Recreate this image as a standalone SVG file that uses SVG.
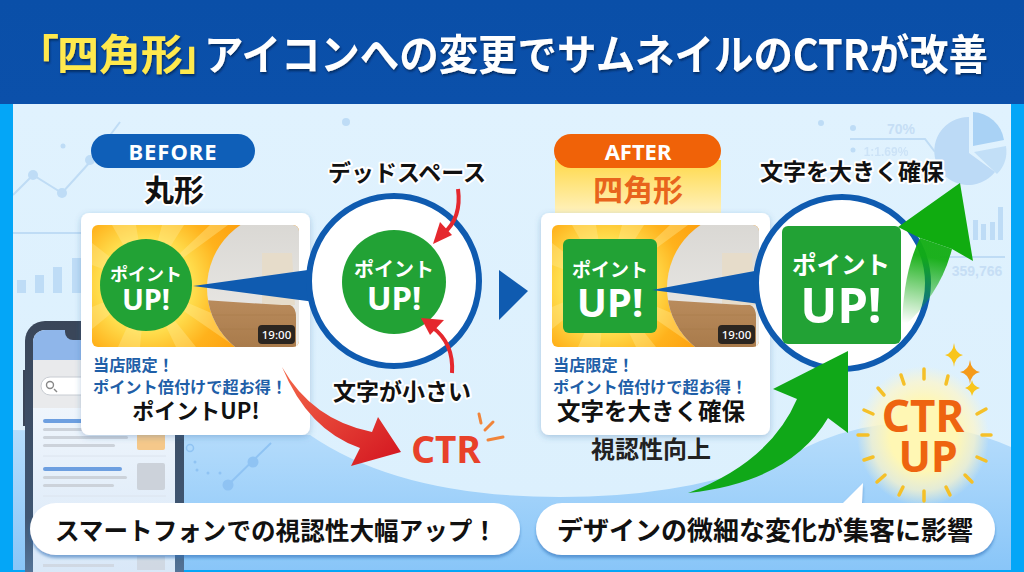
<svg xmlns="http://www.w3.org/2000/svg" xmlns:xlink="http://www.w3.org/1999/xlink" width="1024" height="572" viewBox="0 0 1024 572">
<style>
text{font-family:"Noto Sans CJK JP","Noto Sans",sans-serif;font-weight:700;text-anchor:middle}
.lat{font-family:"Noto Sans",sans-serif}
.lbl{fill:#111;stroke:#fff;stroke-width:4px;paint-order:stroke;stroke-linejoin:round}
.wht{fill:#fff}
.blu{fill:#1f5fa8;font-size:16.2px;text-anchor:start}
.blk{fill:#111}
.card{fill:#fff;filter:url(#sh)}
.ring{fill:#fff;stroke:#0f5bb0;stroke-width:6}
.grn{fill:#22a235}
.pill{fill:#fff;filter:url(#sh2)}
.faint{fill:#c6def5;font-family:"Liberation Sans",sans-serif}
.deco{fill:#bedcf6}
.decol{fill:none;stroke:#bfdcf5;stroke-width:2}
.ray{fill:none;stroke:#f5c028;stroke-width:3.500;stroke-linecap:round}
.bar{fill:#ccd2da}
</style>
<defs>
<linearGradient id="hd" x1="0" y1="0" x2="0" y2="1"><stop offset="0" stop-color="#0a4fa8"/><stop offset="1" stop-color="#0b50aa"/></linearGradient>
<linearGradient id="bg" x1="0" y1="0" x2="0" y2="1"><stop offset="0" stop-color="#dff1fe"/><stop offset="0.6" stop-color="#cfe8fc"/><stop offset="0.8" stop-color="#add8fb"/><stop offset="1" stop-color="#88c5f8"/></linearGradient>
<linearGradient id="sw" x1="0" y1="0" x2="0" y2="1"><stop offset="0" stop-color="#e0f2fe"/><stop offset="1" stop-color="#dcf0fd"/></linearGradient>
<radialGradient id="burst" gradientUnits="userSpaceOnUse" cx="54" cy="60" r="130"><stop offset="0.35" stop-color="#ffe050"/><stop offset="0.6" stop-color="#ffb21c"/><stop offset="1" stop-color="#fb960a"/></radialGradient>
<linearGradient id="red" x1="0" y1="0" x2="1" y2="1"><stop offset="0" stop-color="#f4694a"/><stop offset="1" stop-color="#d3141f"/></linearGradient>
<linearGradient id="gfade" gradientUnits="userSpaceOnUse" x1="915" y1="325" x2="930" y2="245"><stop offset="0" stop-color="#12ad12" stop-opacity="0"/><stop offset="0.85" stop-color="#12ad12" stop-opacity="0.95"/></linearGradient>
<linearGradient id="tab" x1="0" y1="0" x2="0" y2="1"><stop offset="0" stop-color="#ffd94a"/><stop offset="1" stop-color="#fff3c4"/></linearGradient>
<linearGradient id="wall" x1="0" y1="0" x2="0" y2="1"><stop offset="0" stop-color="#d8d6d2"/><stop offset="1" stop-color="#efeeeb"/></linearGradient>
<linearGradient id="wood" x1="0" y1="0" x2="0" y2="1"><stop offset="0" stop-color="#b98b5c"/><stop offset="1" stop-color="#a87a4a"/></linearGradient>
<linearGradient id="bez" x1="0" y1="0" x2="0" y2="1"><stop offset="0" stop-color="#3a4659"/><stop offset="0.7" stop-color="#3f5672"/><stop offset="1" stop-color="#5f83ab"/></linearGradient>
<linearGradient id="scr" x1="0" y1="0" x2="0" y2="1"><stop offset="0" stop-color="#fafcfe"/><stop offset="1" stop-color="#d6e6f7"/></linearGradient>
<radialGradient id="glow"><stop offset="0.5" stop-color="#fff7b4"/><stop offset="0.78" stop-color="#fff6c8" stop-opacity="0.7"/><stop offset="1" stop-color="#fff6c8" stop-opacity="0"/></radialGradient>
<filter id="sh" x="-10%" y="-10%" width="120%" height="125%"><feDropShadow dx="0" dy="2" stdDeviation="3" flood-color="#2a5f9a" flood-opacity="0.3"/></filter>
<filter id="sh2" x="-5%" y="-20%" width="110%" height="150%"><feDropShadow dx="0" dy="3" stdDeviation="1.500" flood-color="#2a6cb5" flood-opacity="0.55"/></filter>
<filter id="ts" x="-5%" y="-20%" width="110%" height="150%"><feDropShadow dx="1" dy="2" stdDeviation="1" flood-color="#04244f" flood-opacity="0.75"/></filter>
<clipPath id="tc"><rect width="207" height="122" rx="6"/></clipPath>
<clipPath id="ph"><path d="M191 -13A76 76 0 0 0 191 139H207V-13Z"/></clipPath>
<g id="thumb" clip-path="url(#tc)">
<rect width="207" height="122" fill="url(#burst)"/>
<g fill="#ffeb94" opacity="0.38"><path d="M54 60L20 0H44Z"/><path d="M54 60L70 0H92Z"/><path d="M54 60L118 0H136Z"/><path d="M54 60L0 18V40Z"/><path d="M54 60L0 82V104Z"/><path d="M54 60L26 122H48Z"/><path d="M54 60L84 122H104Z"/><path d="M54 60L138 96V118Z"/></g>
<g clip-path="url(#ph)">
<rect x="100" y="-13" width="107" height="152" fill="url(#wall)"/>
<path d="M170 28H200L203 80L170 84Z" fill="#e6dcca"/>
<path d="M110 75L190 80H198Q204 82 204 92V125H110Z" fill="url(#wood)"/>
<path d="M110 90H204M110 104H204" stroke="#a5784a" stroke-width="1" opacity="0.5"/>
</g>
</g>
</defs>

<g id="background">
<rect width="1024" height="572" fill="url(#bg)"/>
<path d="M13 104H1011V447Q950 420 880 425Q840 430 800 450Q700 497 560 497Q400 497 310 435L13 430Z" fill="url(#sw)"/>
<path class="decol" d="M13 195L33 175L62 193L90 162L120 122"/>
<path class="decol" d="M13 233H110"/>
<g class="deco"><circle cx="33" cy="175" r="5"/><circle cx="62" cy="193" r="5"/><circle cx="63" cy="146" r="2.500"/><circle cx="90" cy="160" r="5"/><circle cx="346" cy="122" r="4"/><rect x="17" y="280" width="9" height="13"/><rect x="35" y="275" width="9" height="18"/><rect x="53" y="267" width="9" height="26"/><rect x="72" y="258" width="9" height="35"/></g>
<path d="M271 443L228 485" fill="none" stroke="#8fc3f3" stroke-width="2"/>
<g fill="#8fc3f3"><circle cx="253" cy="462" r="5.500"/><circle cx="228" cy="485" r="5.500"/><circle cx="195" cy="462" r="1.500"/><circle cx="197" cy="470" r="1.500"/><circle cx="208" cy="473" r="1.500"/><circle cx="220" cy="473" r="1.500"/></g>
<circle cx="190" cy="448" r="3.500" fill="none" stroke="#8fc3f3" stroke-width="1.500"/>
<g class="deco"><circle cx="821" cy="123" r="3"/><circle cx="853" cy="128" r="3"/><circle cx="853" cy="150" r="2.500"/>
<path d="M973 150L973 116A33 33 0 0 1 1004 144Z" transform="translate(0,-4)" fill="#a9d2f5"/><path d="M974 152L1006 146A33 33 0 0 1 997 174Z" fill="#c2dff7"/><path d="M969 153L995 172A34 34 0 1 1 969 117Z" fill="#bcdaf6"/>
<rect x="973" y="220" width="5" height="20"/><rect x="981" y="224" width="5" height="16"/><rect x="990" y="222" width="5" height="18"/><rect x="998" y="207" width="5" height="33"/></g>
<text class="faint" x="901" y="134" font-size="14">70%</text>
<text class="faint" x="886" y="156" font-size="12" opacity="0.75">1:1.69%</text>
<path class="decol" d="M850 139H925L935 152" stroke-width="1"/>
<path class="decol" d="M940 257H1005" stroke-width="1"/>
<text class="faint" x="977" y="276" font-size="14">359,766</text>
<rect x="0" y="0" width="13" height="572" fill="#04a6f7"/>
<rect x="1011" y="0" width="13" height="572" fill="#04a6f7"/>
<rect x="0" y="570" width="1024" height="2" fill="#04a6f7"/>
</g>

<g id="header">
<rect width="1024" height="104" fill="url(#hd)"/>
<g filter="url(#ts)" style="font-size:42px">
<text x="17" y="70" fill="#ffe94e" style="text-anchor:start;font-size:42px">「</text>
<text x="57" y="70" fill="#ffe94e" style="text-anchor:start;font-size:42px">四角形</text>
<text x="179" y="70" fill="#ffe94e" style="text-anchor:start;font-size:42px">」</text>
<text x="204" y="70" fill="#fff" textLength="784" lengthAdjust="spacingAndGlyphs" style="text-anchor:start;font-size:42px">アイコンへの変更でサムネイルのCTRが改善</text>
</g>
</g>

<g id="phone">
<rect x="23" y="370" width="3" height="16" fill="#3a4659"/><rect x="23" y="386" width="3" height="40" fill="#3a4659"/>
<rect x="25" y="321" width="159" height="280" rx="20" fill="url(#bez)"/>
<rect x="33" y="330" width="142" height="262" rx="12" fill="url(#scr)"/>
<path d="M33 360V342a12 12 0 0 1 12-12H175V360Z" fill="#8fb6ea"/>
<rect x="33" y="360" width="142" height="48" fill="#e9eaec"/>
<path d="M65 330H125V332a8 8 0 0 1-8 8H73a8 8 0 0 1-8-8Z" fill="#3a4659"/>
<rect x="41" y="377" width="90" height="18" rx="9" fill="#fff" stroke="#c8ccd2"/>
<circle cx="50" cy="385" r="3.500" fill="none" stroke="#888" stroke-width="1.400"/>
<path d="M54 389L57 392" stroke="#888" stroke-width="1.400"/>
<rect x="43" y="419" width="85" height="4" rx="2" fill="#6d9fe0"/>
<rect class="bar" x="43" y="428" width="85" height="3" rx="1.500"/><rect class="bar" x="43" y="436" width="85" height="3" rx="1.500"/><rect class="bar" x="43" y="444" width="72" height="3" rx="1.500"/>
<path d="M43 456H166M43 496H166" stroke="#dce4ee"/>
<rect x="43" y="467" width="79" height="4" rx="2" fill="#6d9fe0"/>
<rect class="bar" x="43" y="476" width="84" height="3" rx="1.500"/><rect class="bar" x="43" y="484" width="71" height="3" rx="1.500"/>
<rect class="bar" x="137" y="463" width="28" height="27" rx="2"/>
<rect x="137" y="430" width="28" height="20" rx="2" fill="#f5c88a"/>
<rect class="bar" x="137" y="556" width="28" height="14" opacity="0.7"/><rect class="bar" x="43" y="564" width="71" height="3" opacity="0.7"/>
</g>

<g id="tab-before"><rect x="91" y="134" width="164" height="34" rx="17" fill="#0f5fb8"/><text class="wht lat" x="173" y="160" font-size="22" letter-spacing="1">BEFORE</text></g>
<g id="title-round"><text class="lbl" x="174" y="201" font-size="30">丸形</text></g>

<g id="card-before">
<rect class="card" x="81" y="213" width="229" height="222" rx="8"/>
<use xlink:href="#thumb" href="#thumb" x="92" y="225"/>
<rect x="258" y="325" width="37" height="19" rx="4" fill="#2a2520"/>
<text class="wht lat" x="276.500" y="339" font-size="11.500" style="font-weight:500">19:00</text>
<circle class="grn" cx="146" cy="285" r="46"/>
<text class="wht" x="146" y="281" font-size="18">ポイント</text>
<text class="wht lat" x="146" y="310" font-size="29">UP!</text>
<text class="blu" x="93" y="371">当店限定！</text>
<text class="blu" x="93" y="393">ポイント倍付けで超お得！</text>
<text class="blk" x="196" y="419" font-size="22">ポイントUP!</text>
</g>

<g id="connectors">
<path id="wedge-before" d="M193 286L315 269V302Z" fill="#0f5bb0"/>
<path id="next" d="M499 270L528 291L499 320Z" fill="#0f5bb0"/>
</g>

<g id="zoom-before">
<circle class="ring" cx="394" cy="281" r="85"/>
<circle class="grn" cx="394" cy="282" r="52"/>
<text class="wht" x="394" y="277" font-size="20">ポイント</text>
<text class="wht lat" x="394" y="310" font-size="33">UP!</text>
</g>

<g id="label-dead"><text class="lbl" x="407" y="181" font-size="23">デッドスペース</text>
<path d="M458 189Q462 218 443 234" fill="none" stroke="#e5282e" stroke-width="4"/><path d="M433 244L440 222L452 235Z" fill="#e5282e"/></g>
<g id="label-small"><text class="lbl" x="402" y="400" font-size="23">文字が小さい</text>
<path d="M452 373Q454 343 432 327" fill="none" stroke="#e5282e" stroke-width="4"/><path d="M421 318L444 320L430 335Z" fill="#e5282e"/></g>

<g id="tab-after">
<rect x="555" y="160" width="166" height="56" fill="url(#tab)"/>
<rect x="554" y="134" width="167" height="34" rx="17" fill="#f06208"/>
<text class="wht lat" x="638" y="160" font-size="22">AFTER</text>
<text x="638" y="201" font-size="30" fill="#e8641c">四角形</text>
</g>

<g id="card-after">
<rect class="card" x="541" y="213" width="229" height="222" rx="8"/>
<use xlink:href="#thumb" href="#thumb" x="552" y="225"/>
<rect x="718" y="325" width="37" height="19" rx="4" fill="#2a2520"/>
<text class="wht lat" x="736.500" y="339" font-size="11.500" style="font-weight:500">19:00</text>
<rect class="grn" x="563" y="239" width="94" height="94" rx="6"/>
<text class="wht" x="610" y="277" font-size="19">ポイント</text>
<text class="wht lat" x="610" y="317" font-size="40">UP!</text>
<text class="blu" x="553" y="371">当店限定！</text>
<text class="blu" x="553" y="393">ポイント倍付けで超お得！</text>
<text class="blk" x="651" y="420" font-size="23.500">文字を大きく確保</text>
</g>
<path id="wedge-after" d="M652 290L760 270V304Z" fill="#0f5bb0"/>

<g id="zoom-after">
<circle class="ring" cx="842" cy="283" r="86"/>
<rect class="grn" x="782" y="226" width="119" height="118" rx="6"/>
<text class="wht" x="841" y="274" font-size="24.500">ポイント</text>
<text class="wht lat" x="841" y="323" font-size="49">UP!</text>
</g>
<g id="label-keep"><text class="lbl" x="852" y="180" font-size="23">文字を大きく確保</text></g>
<g id="label-visibility"><text x="651" y="458" font-size="24" fill="#222">視認性向上</text></g>

<g id="arrows">
<path id="arrow-red" d="M282 367Q312 420 372 432L378 417L401 452L351 466L360 448Q308 430 282 367Z" fill="url(#red)"/>
<path id="arrow-green-low" d="M688 493Q770 462 797 399L773 389L848 351V433L828 418Q790 482 688 493Z" fill="#10a818"/>
<path id="arrow-green-high-body" d="M902 328Q903 272 920 238L952 249Q940 295 902 328Z" fill="url(#gfade)"/>
<path id="arrow-green-high-head" d="M898 227L960 183L973 261L952 249L920 238Z" fill="#10ac10"/>
</g>

<g id="ctr-down">
<text class="lat" x="446" y="463" font-size="37" fill="#e8412a">CTR</text>
<path d="M479 414L481 423M493 422L485 430M503 437L488 440" stroke="#f0843a" stroke-width="3" stroke-linecap="round"/>
</g>

<g id="ctr-up">
<ellipse cx="923" cy="436" rx="66" ry="70" fill="url(#glow)"/>
<path class="ray" d="M924 369V379M901 375L904 384M948 376L946 384M878 388L884 395M864 410L873 414M858 435H868M864 460L873 457M877 482L885 475M899 495L903 487M924 491V501M946 487L950 495M965 475L972 482M977 457L986 461M982 435H991M977 414L986 409"/>
<text class="lat" x="923" y="432" font-size="44" fill="#ee6410">CTR</text>
<text class="lat" x="928" y="472" font-size="43" fill="#ee6410">UP</text>
<path d="M954 343Q955 353 963 355Q955 357 954 367Q953 357 945 355Q953 353 954 343Z" fill="#f8c51c"/>
<path d="M970 360Q971 370 980 372Q971 374 970 384Q969 374 960 372Q969 370 970 360Z" fill="#f59a1a"/>
<path d="M972 380Q973 386 980 388Q973 390 972 396Q971 390 965 388Q971 386 972 380Z" fill="#f8c51c"/>
</g>

<g id="pill-left">
<rect class="pill" x="30" y="503" width="490" height="52" rx="26"/>
<text class="blk" x="276" y="540" font-size="25" textLength="442" lengthAdjust="spacingAndGlyphs">スマートフォンでの視認性大幅アップ！</text>
</g>
<g id="pill-right">
<path class="pill" d="M562 503H843L863 483L862 503H969A26 26 0 0 1 969 555H562A26 26 0 0 1 562 503Z"/>
<text class="blk" x="765" y="540" font-size="26">デザインの微細な変化が集客に影響</text>
</g>
</svg>
